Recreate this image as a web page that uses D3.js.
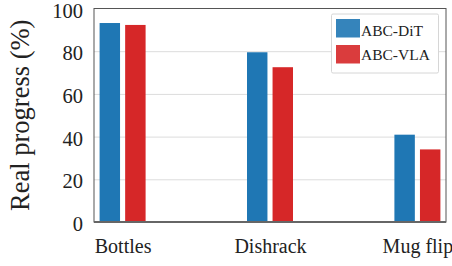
<!DOCTYPE html>
<html>
<head>
<meta charset="utf-8">
<script src="https://cdn.jsdelivr.net/npm/d3@7"></script>
<style>
  body { margin: 0; background: #fff; }
  svg { display: block; }
  text { font-family: "Liberation Serif", "Times New Roman", serif; fill: #222; }
</style>
</head>
<body>
<div id="chart"></div>
<script>
// data
var categories = ["Bottles", "Dishrack", "Mug flip"];
var seriesNames = ["ABC-DiT", "ABC-VLA"];
var ditValues = [93.2, 79.5, 40.9];
var vlaValues = [92.3, 72.5, 34.0];
var yTicks = [0, 20, 40, 60, 80, 100];
var colors = ["#1f77b4", "#d62728"];

var serif = "Liberation Serif";

var width = 452, height = 266,
    margin = {top: 8.5, right: 6, bottom: 44, left: 94},
    plotW = width - margin.left - margin.right,
    plotH = height - margin.top - margin.bottom;

var svg = d3.select("#chart").append("svg")
    .attr("width", width).attr("height", height);

var g = svg.append("g")
    .attr("transform", "translate(" + margin.left + "," + margin.top + ")");

var x = d3.scalePoint().domain(categories).range([0, plotW]).padding(0.194);
var xInner = d3.scaleBand().domain(seriesNames).range([-23, 23]).paddingInner(0.2);
var y = d3.scaleLinear().domain([0, 100]).range([plotH, 0]);

// grid
g.append("g").selectAll("line").data(yTicks.slice(1, -1)).enter().append("line")
    .attr("x1", 0).attr("x2", plotW)
    .attr("y1", d => y(d) + 0.5).attr("y2", d => y(d) + 0.5)
    .attr("stroke", "#dcdcdc").attr("stroke-width", 1);

// bars
var rows = categories.map((c, i) => ({cat: c, vals: [ditValues[i], vlaValues[i]]}));
var groups = g.selectAll(".grp").data(rows).enter().append("g")
    .attr("class", "grp")
    .attr("transform", d => "translate(" + x(d.cat) + ",0)");

groups.selectAll("rect").data(d => d.vals.map((v, k) => ({name: seriesNames[k], v: v, k: k})))
    .enter().append("rect")
    .attr("x", d => xInner(d.name))
    .attr("width", xInner.bandwidth())
    .attr("y", d => y(d.v))
    .attr("height", d => plotH - y(d.v))
    .attr("fill", d => colors[d.k]);

// frame
g.append("rect").attr("x", 0).attr("y", 0).attr("width", plotW).attr("height", plotH)
    .attr("fill", "none").attr("stroke", "#555").attr("stroke-width", 1);
g.append("line").attr("x1", 0).attr("x2", plotW).attr("y1", plotH).attr("y2", plotH)
    .attr("stroke", "#666").attr("stroke-width", 2);

// y axis labels
var yAxis = d3.axisLeft(y).tickValues(yTicks).tickSize(0).tickPadding(11);
var ya = g.append("g").call(yAxis);
ya.attr("font-family", serif);
ya.select(".domain").remove();
ya.selectAll("text").attr("font-family", serif).style("font-size", "20.5px")
    .attr("dy", "0.42em").attr("fill", "#222");

// x axis labels
var xAxis = d3.axisBottom(x).tickSize(0).tickPadding(17);
var xa = g.append("g").attr("transform", "translate(0," + plotH + ")").call(xAxis);
xa.attr("font-family", serif);
xa.select(".domain").remove();
xa.selectAll("text").attr("font-family", serif).style("font-size", "20px").attr("fill", "#222");

// y title
svg.append("text")
    .attr("transform", "translate(29," + (margin.top + plotH / 2) + ") rotate(-90)")
    .attr("text-anchor", "middle")
    .attr("font-family", serif)
    .style("font-size", "26.5px")
    .text("Real progress (%)");

// legend
var legend = svg.append("g").attr("transform", "translate(331,13.5)");
legend.append("rect").attr("x", 0.5).attr("y", 0.5).attr("width", 107).attr("height", 59)
    .attr("rx", 1.5).attr("fill", "#fff").attr("stroke", "#d6d6d6");
seriesNames.forEach((n, i) => {
    legend.append("rect").attr("x", 5).attr("y", 5.5 + i * 26).attr("width", 24).attr("height", 18.5)
        .attr("fill", colors[i]).attr("opacity", 0.9);
    legend.append("text").attr("x", 30).attr("y", 22.5 + i * 23.5)
        .attr("font-family", serif)
        .style("font-size", "15.5px").text(n);
});
</script>
</body>
</html>
